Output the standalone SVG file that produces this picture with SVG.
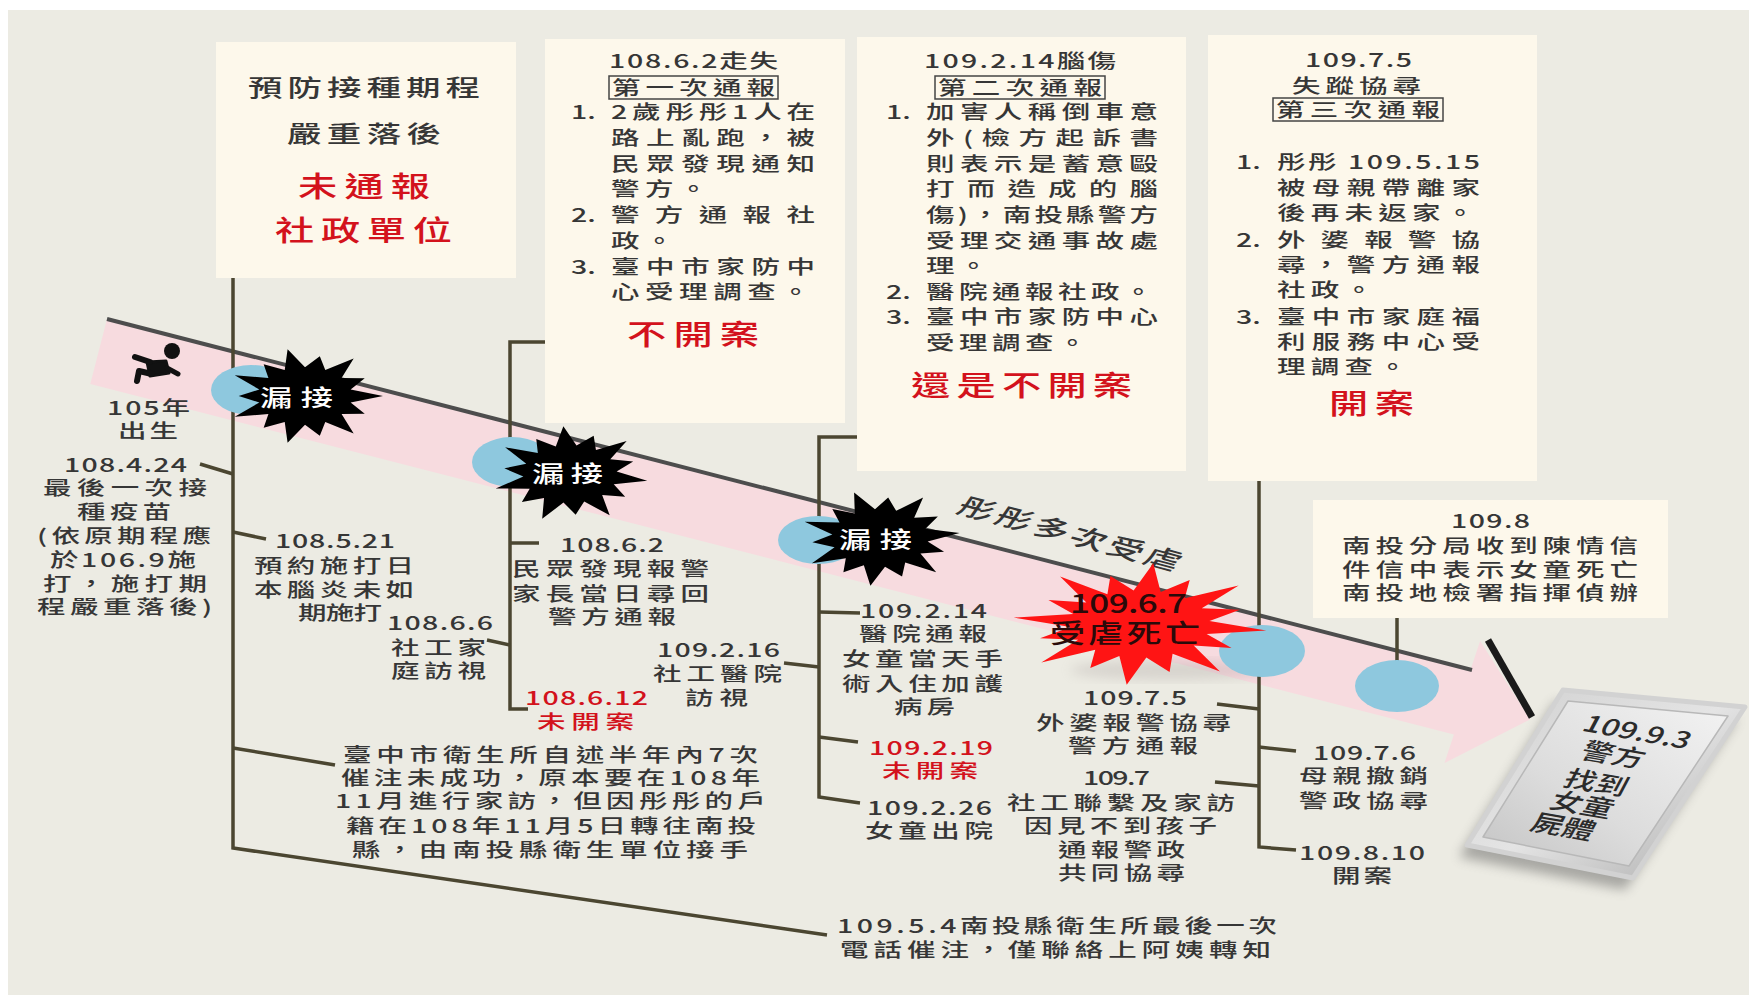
<svg xmlns="http://www.w3.org/2000/svg" width="1749" height="995" viewBox="0 0 1749 995">
<defs>
<style>
.t{font-family:"Noto Sans CJK TC","Noto Sans",sans-serif;font-size:19px;font-weight:500;fill:#363636}
.s{transform-box:fill-box;transform-origin:0 0;transform:scaleX(1.5)}
.s14{transform-box:fill-box;transform-origin:0 0;transform:scaleX(1.4)}
.s135{transform-box:fill-box;transform-origin:0 0;transform:scaleX(1.35)}
.h{font-size:23px}
.r{fill:#d3121c}
.big{font-size:28px;fill:#d3121c}
.w{fill:#ffffff;font-size:23px}
.box{fill:#fdf8eb}
.hb{fill:none;stroke:#444;stroke-width:1.5}
.conn{fill:none;stroke:#4b4631;stroke-width:3.5}
.dot{fill:#8ec8de}
.st{font-family:"Noto Sans CJK TC","Noto Sans",sans-serif;font-size:24px;font-weight:500;fill:#2b2b2b;font-style:italic}
</style>
<path id="burst" d="M100,0 L58.5,13.4 L76.6,36.9 L46.9,37.4 L62.4,78.2 L26,54.1 L19,82.9 L0,60 L-22.3,97.5 L-26,54.1 L-53,66.4 L-46.9,37.4 L-90.1,43.4 L-58.5,13.4 L-85,0 L-58.5,-13.4 L-90.1,-43.4 L-46.9,-37.4 L-53,-66.4 L-26,-54.1 L-22.3,-97.5 L0,-60 L19,-82.9 L26,-54.1 L62.4,-78.2 L46.9,-37.4 L76.6,-36.9 L58.5,-13.4 Z"/>
<path id="burst2" d="M100,0 L53.9,10.7 L75.8,31.4 L45.7,30.6 L70.7,70.7 L30.6,45.7 L31.4,75.8 L10.7,53.9 L0,100 L-10.7,53.9 L-31.4,75.8 L-30.6,45.7 L-70.7,70.7 L-45.7,30.6 L-75.8,31.4 L-53.9,10.7 L-100,0 L-53.9,-10.7 L-75.8,-31.4 L-45.7,-30.6 L-70.7,-70.7 L-30.6,-45.7 L-31.4,-75.8 L-10.7,-53.9 L0,-100 L10.7,-53.9 L31.4,-75.8 L30.6,-45.7 L70.7,-70.7 L45.7,-30.6 L75.8,-31.4 L53.9,-10.7 Z"/>
<linearGradient id="stoneO" x1="0" y1="0" x2="1" y2="1">
<stop offset="0" stop-color="#cfcfcf"/><stop offset="0.5" stop-color="#e4e4e4"/><stop offset="1" stop-color="#a9a9a9"/>
</linearGradient>
<linearGradient id="stoneI" x1="1" y1="0" x2="0" y2="1">
<stop offset="0" stop-color="#f3f3f3"/><stop offset="0.6" stop-color="#dcdcdc"/><stop offset="1" stop-color="#c4c4c4"/>
</linearGradient>
<filter id="blur" x="-20%" y="-20%" width="140%" height="140%"><feGaussianBlur stdDeviation="6"/></filter>
</defs>

<rect x="8" y="10" width="1741" height="985" fill="#ecebe3"/>

<g id="band">
<polygon points="107,319 1470.6,669.6 1480.1,641 1530.1,719.4 1444.5,763 1453.9,734.5 90.3,383.9" fill="#f7dbdf"/>
<ellipse cx="1170" cy="670" rx="100" ry="10" fill="#9a8f8f" opacity="0.25" filter="url(#blur)"/>
<line x1="107" y1="319" x2="1472" y2="670" stroke="#4d4d4d" stroke-width="4"/>
<line x1="1488" y1="640" x2="1532" y2="717" stroke="#1a1a1a" stroke-width="7"/>
<text class="t" transform="translate(1067,533) rotate(15) scale(1.4,1)" y="9" x="-81.4" textLength="162.9" style="font-size:25px;font-style:italic">彤彤多次受虐</text>
</g>

<g id="connectors" class="conn">
<polyline points="233,278 233,848 827,935"/>
<line x1="200" y1="464" x2="233" y2="474"/>
<line x1="233" y1="532" x2="266" y2="539"/>
<line x1="233" y1="748" x2="335" y2="765"/>
<polyline points="545,342 510,342 510,709 528,709"/>
<line x1="487" y1="640" x2="510" y2="645"/>
<line x1="510" y1="543" x2="539" y2="543"/>
<polyline points="857,437 819,437 819,797 860,803"/>
<line x1="819" y1="612" x2="860" y2="613"/>
<line x1="784" y1="663" x2="819" y2="667"/>
<line x1="819" y1="737" x2="858" y2="742"/>
<polyline points="1259,480 1259,847 1296,850"/>
<line x1="1217" y1="704" x2="1259" y2="709"/>
<line x1="1215" y1="782" x2="1259" y2="786"/>
<line x1="1259" y1="747" x2="1296" y2="751"/>
<line x1="1397" y1="617" x2="1397" y2="662"/>
</g>

<g id="box1">
<rect class="box" x="216" y="42" width="300" height="236"/>
<text class="t h s" x="248" y="96" textLength="154.7">預防接種期程</text>
<text class="t h s" x="287" y="142" textLength="102.7">嚴重落後</text>
<text class="t big s14" x="298" y="197" textLength="94.3">未通報</text>
<text class="t big s14" x="275" y="241" textLength="126.4">社政單位</text>
</g>

<g id="box2">
<rect class="box" x="545" y="39" width="300" height="384"/>
<text class="t s" x="609" y="68" textLength="112.7">108.6.2走失</text>
<rect class="hb" x="609" y="76" width="169" height="23"/>
<text class="t s" x="612" y="95" textLength="108.7">第一次通報</text>
<text class="t s" x="571" y="119">1.</text>
<text class="t s" x="611" y="119" textLength="136">2歲彤彤1人在</text>
<text class="t s" x="611" y="145" textLength="136">路上亂跑，被</text>
<text class="t s" x="611" y="171" textLength="136">民眾發現通知</text>
<text class="t s" x="611" y="196" style="letter-spacing:3.7px">警方。</text>
<text class="t s" x="571" y="222">2.</text>
<text class="t s" x="611" y="222" textLength="136">警方通報社</text>
<text class="t s" x="611" y="248" style="letter-spacing:3.7px">政。</text>
<text class="t s" x="571" y="274">3.</text>
<text class="t s" x="611" y="274" textLength="136">臺中市家防中</text>
<text class="t s" x="611" y="299" style="letter-spacing:3.7px">心受理調查。</text>
<text class="t big s14" x="627" y="345" textLength="94.3">不開案</text>
</g>

<g id="box3">
<rect class="box" x="857" y="37" width="329" height="434"/>
<text class="t s" x="924" y="68" textLength="128">109.2.14腦傷</text>
<rect class="hb" x="935" y="76" width="170" height="23"/>
<text class="t s" x="938" y="95" textLength="109.3">第二次通報</text>
<text class="t s" x="886" y="119">1.</text>
<text class="t s" x="926" y="119" textLength="154.7">加害人稱倒車意</text>
<text class="t s" x="926" y="145" textLength="154.7">外(檢方起訴書</text>
<text class="t s" x="926" y="171" textLength="154.7">則表示是蓄意毆</text>
<text class="t s" x="926" y="196" textLength="154.7">打而造成的腦</text>
<text class="t s" x="926" y="222" textLength="154.7">傷)，南投縣警方</text>
<text class="t s" x="926" y="248" textLength="154.7">受理交通事故處</text>
<text class="t s" x="926" y="273" style="letter-spacing:3px">理。</text>
<text class="t s" x="886" y="299">2.</text>
<text class="t s" x="926" y="299" style="letter-spacing:3px">醫院通報社政。</text>
<text class="t s" x="886" y="324">3.</text>
<text class="t s" x="926" y="324" textLength="154.7">臺中市家防中心</text>
<text class="t s" x="926" y="350" style="letter-spacing:3px">受理調查。</text>
<text class="t big s14" x="911" y="396" textLength="157.9">還是不開案</text>
</g>

<g id="box4">
<rect class="box" x="1208" y="35" width="329" height="446"/>
<text class="t s" x="1305" y="67" textLength="71.3">109.7.5</text>
<text class="t s" x="1292" y="93" textLength="86">失蹤協尋</text>
<rect class="hb" x="1273" y="98" width="170" height="23"/>
<text class="t s" x="1276" y="117" textLength="109.3">第三次通報</text>
<text class="t s" x="1236" y="169">1.</text>
<text class="t s" x="1277" y="169" textLength="135.3">彤彤 109.5.15</text>
<text class="t s" x="1277" y="195" textLength="135.3">被母親帶離家</text>
<text class="t s" x="1277" y="220" style="letter-spacing:3.5px">後再未返家。</text>
<text class="t s" x="1236" y="247">2.</text>
<text class="t s" x="1277" y="247" textLength="135.3">外婆報警協</text>
<text class="t s" x="1277" y="272" textLength="135.3">尋，警方通報</text>
<text class="t s" x="1277" y="297" style="letter-spacing:3.5px">社政。</text>
<text class="t s" x="1236" y="324">3.</text>
<text class="t s" x="1277" y="324" textLength="135.3">臺中市家庭福</text>
<text class="t s" x="1277" y="349" textLength="135.3">利服務中心受</text>
<text class="t s" x="1277" y="374" style="letter-spacing:3.5px">理調查。</text>
<text class="t big s14" x="1329" y="414" textLength="60.7">開案</text>
</g>

<g id="box5">
<rect class="box" x="1313" y="500" width="355" height="118"/>
<text class="t s" x="1451" y="528" textLength="52.7">109.8</text>
<text class="t s" x="1342" y="553" textLength="197.3">南投分局收到陳情信</text>
<text class="t s" x="1342" y="577" textLength="197.3">件信中表示女童死亡</text>
<text class="t s" x="1342" y="600" textLength="197.3">南投地檢署指揮偵辦</text>
</g>

<g id="circles">
<ellipse class="dot" cx="251" cy="390" rx="40" ry="25"/>
<ellipse class="dot" cx="512" cy="462" rx="40" ry="25"/>
<ellipse class="dot" cx="818" cy="540" rx="40" ry="24"/>
<ellipse class="dot" cx="1262" cy="651" rx="43" ry="26"/>
<ellipse class="dot" cx="1397" cy="686" rx="42" ry="26"/>
</g>

<g id="baby" fill="#111" stroke="#111" stroke-linecap="round" stroke-linejoin="round">
<circle cx="172" cy="351" r="8" stroke="none"/>
<path d="M147,362 L166,361 L169,373 L150,376 Z" stroke-width="3"/>
<path d="M150,362 L135,357" stroke-width="6" fill="none"/>
<path d="M152,374 L139,371 L137,381" stroke-width="6" fill="none"/>
<path d="M167,368 L178,374" stroke-width="5" fill="none"/>
</g>

<g id="miss1">
<use href="#burst" transform="translate(305,396) scale(0.78,0.48)" fill="#000"/>
<text class="t w s14" x="260" y="406" textLength="52.1">漏接</text>
</g>
<g id="miss2">
<use href="#burst" transform="translate(570,474) scale(0.78,0.48) rotate(8)" fill="#000"/>
<text class="t w s14" x="532" y="482" textLength="50.7">漏接</text>
</g>
<g id="miss3">
<use href="#burst" transform="translate(880,538) scale(0.8,0.48) rotate(-6)" fill="#000"/>
<text class="t w s14" x="839" y="548" textLength="52.1">漏接</text>
</g>
<g id="death">
<use href="#burst2" transform="translate(1140,624) scale(1.27,0.61) rotate(6)" fill="#ff1414"/>
<text class="t s135" x="1070" y="613" textLength="86.7" style="font-size:26px;fill:#2a0a0a">109.6.7</text>
<text class="t s135" x="1050" y="643" textLength="111.1" style="font-size:26px;fill:#2a0a0a">受虐死亡</text>
</g>

<g id="birth">
<text class="t s" x="107" y="415" textLength="55.3">105年</text>
<text class="t s" x="118" y="438" textLength="40">出生</text>
</g>
<g id="e108424">
<text class="t s" x="64" y="472" textLength="82">108.4.24</text>
<text class="t s" x="43" y="495" textLength="109.3">最後一次接</text>
<text class="t s" x="77" y="519" textLength="62.7">種疫苗</text>
<text class="t s" x="37" y="543" textLength="116">(依原期程應</text>
<text class="t s" x="50" y="567" textLength="97.3">於106.9施</text>
<text class="t s" x="43" y="591" textLength="109.3">打，施打期</text>
<text class="t s" x="37" y="614" textLength="116.7">程嚴重落後)</text>
</g>
<g id="e108521">
<text class="t s" x="275" y="548" textLength="80">108.5.21</text>
<text class="t s" x="254" y="573" textLength="106.7">預約施打日</text>
<text class="t s" x="254" y="597" textLength="106.7">本腦炎未如</text>
<text class="t s" x="298" y="620" textLength="56">期施打</text>
</g>
<g id="e10866">
<text class="t s" x="387" y="630" textLength="70.7">108.6.6</text>
<text class="t s" x="391" y="655" textLength="63.3">社工家</text>
<text class="t s" x="391" y="678" textLength="63.3">庭訪視</text>
</g>
<g id="e10862">
<text class="t s" x="560" y="552" textLength="69.3">108.6.2</text>
<text class="t s" x="512" y="576" textLength="131.3">民眾發現報警</text>
<text class="t s" x="512" y="601" textLength="131.3">家長當日尋回</text>
<text class="t s" x="548" y="624" textLength="85.3">警方通報</text>
</g>
<g id="e108612">
<text class="t r s" x="525" y="705" textLength="82">108.6.12</text>
<text class="t r s" x="537" y="729" textLength="64.7">未開案</text>
</g>
<g id="e109216">
<text class="t s" x="657" y="657" textLength="82">109.2.16</text>
<text class="t s" x="653" y="681" textLength="86">社工醫院</text>
<text class="t s" x="685" y="705" textLength="42">訪視</text>
</g>
<g id="e109214">
<text class="t s" x="860" y="618" textLength="84.7">109.2.14</text>
<text class="t s" x="859" y="641" textLength="85.3">醫院通報</text>
<text class="t s" x="842" y="666" textLength="107.3">女童當天手</text>
<text class="t s" x="842" y="691" textLength="107.3">術入住加護</text>
<text class="t s" x="894" y="714" textLength="40.7">病房</text>
</g>
<g id="e109219">
<text class="t r s" x="869" y="755" textLength="82.7">109.2.19</text>
<text class="t r s" x="882" y="778" textLength="64">未開案</text>
</g>
<g id="e109226">
<text class="t s" x="867" y="815" textLength="83.3">109.2.26</text>
<text class="t s" x="865" y="838" textLength="85.3">女童出院</text>
</g>
<g id="e10975">
<text class="t s" x="1083" y="705" textLength="69.3">109.7.5</text>
<text class="t s" x="1036" y="730" textLength="130">外婆報警協尋</text>
<text class="t s" x="1068" y="753" textLength="86.7">警方通報</text>
</g>
<g id="e1097">
<text class="t s" x="1083" y="785" textLength="44.7">109.7</text>
<text class="t s" x="1007" y="810" textLength="152">社工聯繫及家訪</text>
<text class="t s" x="1024" y="833" textLength="128.7">因見不到孩子</text>
<text class="t s" x="1058" y="857" textLength="84.7">通報警政</text>
<text class="t s" x="1058" y="880" textLength="84.7">共同協尋</text>
</g>
<g id="e10976">
<text class="t s" x="1313" y="760" textLength="68.7">109.7.6</text>
<text class="t s" x="1299" y="783" textLength="86">母親撤銷</text>
<text class="t s" x="1299" y="808" textLength="86">警政協尋</text>
</g>
<g id="e109810">
<text class="t s" x="1299" y="860" textLength="84">109.8.10</text>
<text class="t s" x="1332" y="883" textLength="40">開案</text>
</g>
<g id="health">
<text class="t s" x="343" y="762" textLength="276.7">臺中市衛生所自述半年內7次</text>
<text class="t s" x="341" y="785" textLength="279.3">催注未成功，原本要在108年</text>
<text class="t s" x="335" y="808" textLength="287.3">11月進行家訪，但因彤彤的戶</text>
<text class="t s" x="346" y="833" textLength="273.3">籍在108年11月5日轉往南投</text>
<text class="t s" x="352" y="857" textLength="264">縣，由南投縣衛生單位接手</text>
</g>
<g id="e10954">
<text class="t s" x="837" y="933" textLength="293.3">109.5.4南投縣衛生所最後一次</text>
<text class="t s" x="840" y="957" textLength="287.3">電話催注，僅聯絡上阿姨轉知</text>
</g>

<g id="stone">
<polygon points="1555,702 1737,719 1625,890 1459,857" fill="#555" opacity="0.45" filter="url(#blur)"/>
<polygon points="1563,690 1745,707 1633,878 1467,845" fill="url(#stoneO)" stroke="#d2d2d2" stroke-width="5" stroke-linejoin="round"/>
<polygon points="1568,701 1728,716 1629,866 1483,837" fill="url(#stoneI)" stroke="#b8b8b8" stroke-width="1.5" stroke-linejoin="round"/>
<text class="st" transform="translate(1635,731) rotate(10) scale(1.3,1)" y="9" text-anchor="middle">109.9.3</text>
<text class="st" transform="translate(1611,753) rotate(10) scale(1.3,1)" y="10" text-anchor="middle">警方</text>
<text class="st" transform="translate(1594,781) rotate(10) scale(1.3,1)" y="10" text-anchor="middle">找到</text>
<text class="st" transform="translate(1580,803) rotate(10) scale(1.3,1)" y="10" text-anchor="middle">女童</text>
<text class="st" transform="translate(1561,825) rotate(10) scale(1.3,1)" y="10" text-anchor="middle">屍體</text>
</g>
</svg>
